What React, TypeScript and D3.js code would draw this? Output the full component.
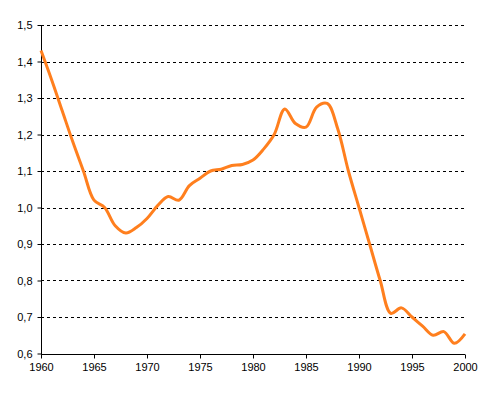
import { useEffect, useRef } from 'react';
import * as d3 from 'd3';

const years = d3.range(1960, 2001);
const values = [
  1.43, 1.35, 1.265, 1.18, 1.10, 1.02, 1.00, 0.95, 0.93, 0.945,
  0.97, 1.005, 1.03, 1.02, 1.06, 1.08, 1.10, 1.105, 1.115, 1.118,
  1.13, 1.16, 1.20, 1.27, 1.23, 1.22, 1.275, 1.285, 1.215, 1.10,
  1.00, 0.90, 0.80, 0.71, 0.725, 0.70, 0.675, 0.65, 0.66, 0.628,
  0.654,
];
const xTicks = [1960, 1965, 1970, 1975, 1980, 1985, 1990, 1995, 2000];
const yTicks = [0.6, 0.7, 0.8, 0.9, 1.0, 1.1, 1.2, 1.3, 1.4, 1.5];

export default function App() {
  const svgRef = useRef<SVGSVGElement>(null);

  useEffect(() => {
    if (!svgRef.current) return;
    const svg = d3.select(svgRef.current);
    svg.selectAll("*").remove();

    const x = d3.scaleLinear().domain([1960, 2000]).range([41, 465]);
    const y = d3.scaleLinear().domain([0.6, 1.5]).range([353.5, 25]);
    const font = "'Liberation Sans', Arial, sans-serif";

    // gridlines
    svg.append("g")
      .selectAll("line")
      .data(yTicks.slice(1))
      .join("line")
      .attr("x1", 41)
      .attr("x2", 465)
      .attr("y1", d => Math.round(y(d)) + 0.5)
      .attr("y2", d => Math.round(y(d)) + 0.5)
      .attr("stroke", "#000")
      .attr("stroke-dasharray", "3,3");

    // axes
    const yAxis = svg.append("g")
      .attr("transform", "translate(41.5,0)")
      .call(d3.axisLeft(y).tickValues(yTicks).tickSize(4).tickPadding(5)
        .tickFormat(d => d3.format(".1f")(Number(d)).replace(".", ",")));
    const xAxis = svg.append("g")
      .attr("transform", `translate(0,${Math.round(y(0.6)) + 0.5})`)
      .call(d3.axisBottom(x).tickValues(xTicks).tickSize(4).tickPadding(5)
        .tickFormat(d => String(d)));
    [yAxis, xAxis].forEach(a => {
      a.selectAll("text").attr("font-family", font).attr("font-size", 11).attr("fill", "#000");
      a.selectAll("path,line").attr("stroke", "#000");
      a.select(".domain").attr("d", null);
    });
    yAxis.select(".domain").attr("d", `M0,${y(1.5)}V${y(0.6) + 0.5}`);
    xAxis.select(".domain").attr("d", `M${x(1960)},0H${x(2000)}`);

    // line
    const line = d3.line<number>()
      .x((_, i) => x(years[i]))
      .y(d => y(d))
      .curve(d3.curveCatmullRom.alpha(0.5));
    svg.append("path")
      .datum(values)
      .attr("d", line)
      .attr("fill", "none")
      .attr("stroke", "#ff7f1e")
      .attr("stroke-width", 3)
      .attr("stroke-linejoin", "round");
  }, []);

  return (
    <svg
      ref={svgRef}
      width={484}
      height={395}
      style={{ position: 'absolute', left: 0, top: 0, background: '#fff' }}
    />
  );
}
